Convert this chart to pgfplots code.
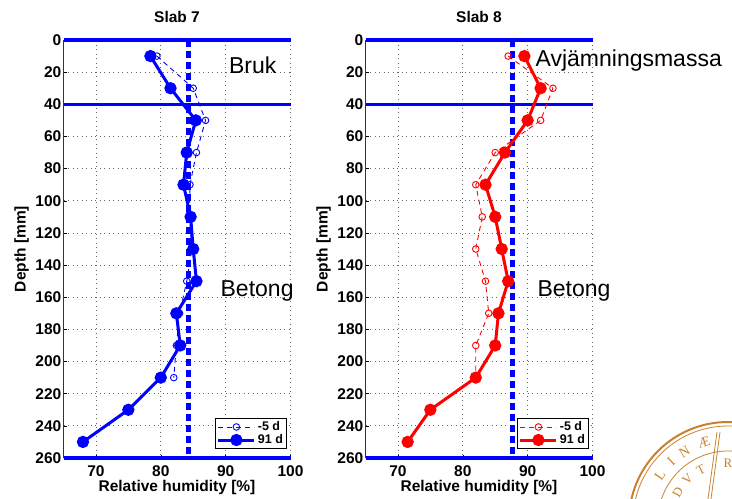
\documentclass[border=0pt]{standalone}
\usepackage{fontspec}
\setmainfont{Liberation Sans}
\newfontfamily\logofont{Liberation Serif}
\usepackage{pgfplots}
\pgfplotsset{compat=1.18}
\definecolor{mblue}{RGB}{0,0,255}
\definecolor{mred}{RGB}{255,0,0}
\definecolor{lund}{RGB}{200,130,45}
\newcommand{\tickfont}{\fontsize{15.5bp}{18bp}\selectfont\bfseries}
\newcommand{\legfont}{\fontsize{12.5bp}{14bp}\selectfont\bfseries}
\newcommand{\annfont}{\fontsize{23bp}{26bp}\selectfont}
\newcommand{\sealfont}{\logofont\fontsize{14bp}{14bp}\selectfont}
\newcommand{\sealfontb}{\logofont\fontsize{13bp}{13bp}\selectfont}
\pgfplotsset{
  slab/.style={
    scale only axis, width=227bp, height=418bp,
    xmin=65, xmax=100, ymin=0, ymax=260, y dir=reverse,
    xtick={70,80,90,100}, ytick={0,20,...,260},
    grid=major, major grid style={black!60, line width=0.8bp, dash pattern=on 0.9bp off 3.6bp},
    axis line style={draw=none},
    tick style={black, line width=0.5bp}, major tick length=3bp, tick align=inside,
    xtick pos=left, ytick pos=left,
    tick label style={font=\tickfont},
    /pgf/number format/assume math mode=true,
    xticklabel style={inner sep=0pt, anchor=north, yshift=-7bp},
    yticklabel style={inner sep=0pt, anchor=east, xshift=-2bp},
    label style={font=\tickfont},
    xlabel={Relative humidity [\%]},
    xlabel style={at={(axis description cs:0.5,-0.0813)}, anchor=base},
    ylabel={Depth [mm]},
    ylabel style={at={(axis description cs:-0.185,0.5)}, anchor=center},
    title style={at={(axis description cs:0.5,1.0287)}, anchor=base, font=\tickfont},
    clip=false,
    legend style={at={(axis description cs:0.984,0.021)}, anchor=south east,
      font=\legfont, draw=black, line width=0.9bp, fill=white,
      inner sep=1.5bp, row sep=-1.5bp, cells={anchor=west}},
    legend image code/.code={\draw[mark repeat=2,mark phase=2] plot coordinates {(0bp,0bp) (18bp,0bp) (36bp,0bp)};},
  },
  old/.style={line width=0.9bp, dash pattern=on 5bp off 4bp, mark=o, mark size=3.3bp, mark options={solid, line width=0.9bp}},
  new/.style={line width=3bp, mark=*, mark size=4.6bp, mark options={solid}},
  hline/.style={mblue, line width=3.5bp, forget plot},
  vline/.style={mblue, line width=5bp, dash pattern=on 7bp off 4bp, forget plot},
}
\begin{document}
\begin{tikzpicture}
\useasboundingbox (0,0) rectangle (732bp,499bp);
% ---------------- Slab 7 ----------------
\begin{axis}[slab, at={(63.5bp,41bp)}, anchor=south west, title={Slab 7}]
\addplot[vline] coordinates {(84.35,0) (84.35,260)};
\addplot[black!80, line width=0.6bp, forget plot] coordinates {(65,0) (65,260)};
\addplot[hline] coordinates {(65,0) (100,0)};
\addplot[hline] coordinates {(65,40) (100,40)};
\addplot[hline] coordinates {(65,260) (100,260)};
\addplot[mblue, old] coordinates {
(79.4,10) (85.0,30) (86.9,50) (85.5,70) (84.5,90) (84.4,110) (84.8,130)
(84.0,150) (82.9,170) (82.4,190) (82.0,210)};
\addlegendentry{-5 d}
\addplot[mblue, new] coordinates {
(78.4,10) (81.5,30) (85.4,50) (84.0,70) (83.5,90) (84.6,110) (85.0,130)
(85.5,150) (82.4,170) (83.0,190) (80.0,210) (75.0,230) (68.0,250)};
\addlegendentry{91 d}
\node[anchor=base west, font=\annfont, inner sep=0pt] at (axis cs:90.5,20.7) {Bruk};
\node[anchor=base west, font=\annfont, inner sep=0pt] at (axis cs:89.2,159.6) {Betong};
\end{axis}
% ---------------- Slab 8 ----------------
\begin{axis}[slab, at={(365.5bp,41bp)}, anchor=south west, title={Slab 8}]
\addplot[vline] coordinates {(87.7,0) (87.7,260)};
\addplot[black!80, line width=0.6bp, forget plot] coordinates {(65,0) (65,260)};
\addplot[hline] coordinates {(65,0) (100,0)};
\addplot[hline] coordinates {(65,40) (100,40)};
\addplot[hline] coordinates {(65,260) (100,260)};
\addplot[mred, old] coordinates {
(87.0,10) (93.9,30) (92.0,50) (85.0,70) (82.0,90) (83.0,110) (82.0,130)
(83.5,150) (84.0,170) (82.0,190) (82.0,210)};
\addlegendentry{-5 d}
\addplot[mred, new] coordinates {
(89.5,10) (92.0,30) (90.0,50) (86.5,70) (83.5,90) (85.0,110) (86.0,130)
(87.0,150) (85.5,170) (85.0,190) (82.0,210) (75.0,230) (71.5,250)};
\addlegendentry{91 d}
\node[anchor=base west, font=\annfont, inner sep=0pt] at (axis cs:91.2,16.2) {Avjämningsmassa};
\node[anchor=base west, font=\annfont, inner sep=0pt] at (axis cs:91.5,159.6) {Betong};
\end{axis}
% ---------------- seal (partly visible) ----------------
\begin{scope}
\clip (0,0) rectangle (732bp,499bp);
\draw[lund, line width=2bp] (728bp,-22bp) circle (99bp);
\draw[lund, line width=0.8bp] (728bp,-22bp) circle (95bp);
\draw[lund, line width=0.8bp] (728bp,-22bp) circle (70bp);
\foreach \a/\l in {146/L,134/I,122/N,107/Æ}{
  \pgfmathsetmacro{\r}{\a-90}
  \node[lund, rotate=\r, inner sep=0pt, font=\sealfont] at ([shift={(\a:82bp)}]728bp,-22bp) {\l};
}
\foreach \a/\l in {150/D,134/V,118/T,90/R}{
  \pgfmathsetmacro{\r}{\a-90}
  \node[lund, rotate=\r, inner sep=0pt, font=\sealfontb] at ([shift={(\a:58bp)}]728bp,-22bp) {\l};
}
\draw[lund, line width=0.8bp] (717bp,67bp) -- (708bp,0bp);
\draw[lund, line width=0.8bp] (720bp,67bp) -- (711bp,0bp);
\end{scope}
\end{tikzpicture}
\end{document}
